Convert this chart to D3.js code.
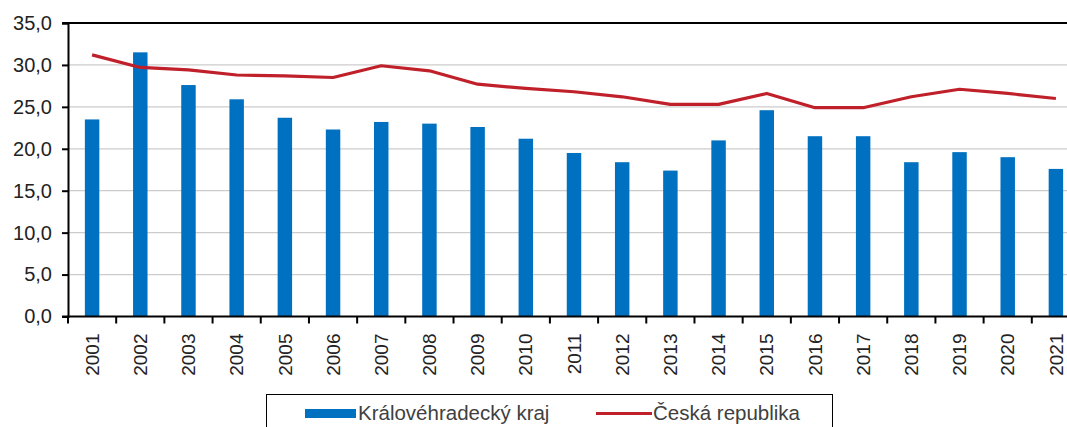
<!DOCTYPE html>
<html>
<head>
<meta charset="utf-8">
<script src="https://cdn.jsdelivr.net/npm/d3@7"></script>
<style>
  body { margin: 0; background: #fff; }
  svg { display: block; font-family: "Liberation Sans", Arial, sans-serif; }
</style>
</head>
<body>
<div id="chart"></div>
<script>
// data
const years = ["2001","2002","2003","2004","2005","2006","2007","2008","2009","2010",
  "2011","2012","2013","2014","2015","2016","2017","2018","2019","2020","2021"];
const kraj = [23.5, 31.5, 27.6, 25.9, 23.7, 22.3, 23.2, 23.0, 22.6, 21.2,
  19.5, 18.4, 17.4, 21.0, 24.6, 21.5, 21.5, 18.4, 19.6, 19.0, 17.6];
const cr = [31.2, 29.7, 29.4, 28.8, 28.7, 28.5, 29.9, 29.3, 27.7, 27.2,
  26.8, 26.2, 25.3, 25.3, 26.6, 24.9, 24.9, 26.2, 27.1, 26.6, 26.0];
const yTicks = [0, 5, 10, 15, 20, 25, 30, 35];
const seriesNames = ["Královéhradecký kraj", "Česká republika"];

const width = 1067, height = 427;
const margin = { top: 23, left: 68, bottom: 316.5, right: 1080 };

const svg = d3.select("#chart").append("svg")
  .attr("width", width)
  .attr("height", height);

const x = d3.scaleBand()
  .domain(years)
  .range([margin.left, margin.right])
  .padding(0);

const y = d3.scaleLinear()
  .domain([0, 35])
  .range([margin.bottom, margin.top]);

const fmt = v => d3.format(".1f")(v).replace(".", ",");

// gridlines
svg.append("g")
  .selectAll("line")
  .data(yTicks.filter(t => t > 0 && t < 35))
  .join("line")
    .attr("x1", margin.left)
    .attr("x2", width)
    .attr("y1", d => y(d))
    .attr("y2", d => y(d))
    .attr("stroke", "#cccccc")
    .attr("stroke-width", 1.3);

// top border line
svg.append("line")
  .attr("x1", margin.left - 6).attr("x2", width)
  .attr("y1", y(35)).attr("y2", y(35))
  .attr("stroke", "#000").attr("stroke-width", 2);

// bars
const barW = x.step() * 0.3;
svg.append("g")
  .selectAll("rect")
  .data(kraj)
  .join("rect")
    .attr("x", (d, i) => x(years[i]) + x.bandwidth() / 2 - barW / 2)
    .attr("y", d => y(d))
    .attr("width", barW)
    .attr("height", d => y(0) - y(d))
    .attr("fill", "#0070C0");

// line
const line = d3.line()
  .x((d, i) => x(years[i]) + x.bandwidth() / 2)
  .y(d => y(d));
svg.append("path")
  .datum(cr)
  .attr("d", line)
  .attr("fill", "none")
  .attr("stroke", "#C0202A")
  .attr("stroke-width", 3.2)
  .attr("stroke-linejoin", "round");

// Y axis
const yAxis = svg.append("g")
  .attr("transform", `translate(${margin.left},0)`)
  .call(d3.axisLeft(y).tickValues(yTicks).tickSize(6).tickPadding(10).tickFormat(fmt));
yAxis.select(".domain").attr("stroke-width", 2);
yAxis.selectAll(".tick line").attr("stroke-width", 2);
yAxis.selectAll("text")
  .attr("font-size", 20)
  .attr("fill", "#222")
  .attr("font-family", "Liberation Sans, Arial, sans-serif");

// X axis
const xAxis = svg.append("g")
  .attr("transform", `translate(0,${margin.bottom})`)
  .call(d3.axisBottom(x).tickSize(0).tickSizeOuter(0));
xAxis.select(".domain").attr("stroke-width", 2).attr("d", `M${margin.left - 6},0H${width}`);
xAxis.selectAll(".tick text")
  .attr("font-size", 19)
  .attr("fill", "#222")
  .attr("font-family", "Liberation Sans, Arial, sans-serif")
  .attr("text-anchor", "end")
  .attr("dy", "0.35em")
  .attr("transform", "translate(0,17) rotate(-90)")
  .attr("x", 0)
  .attr("y", 0);

// tick marks on band boundaries
svg.append("g")
  .selectAll("line")
  .data(years)
  .join("line")
    .attr("x1", d => x(d))
    .attr("x2", d => x(d))
    .attr("y1", margin.bottom)
    .attr("y2", margin.bottom + 7)
    .attr("stroke", "#000")
    .attr("stroke-width", 2);

// legend
const legend = svg.append("g");
legend.append("rect")
  .attr("x", 266.5).attr("y", 394.5)
  .attr("width", 566).attr("height", 40)
  .attr("fill", "none").attr("stroke", "#000").attr("stroke-width", 1);
legend.append("rect")
  .attr("x", 305).attr("y", 409)
  .attr("width", 51).attr("height", 9)
  .attr("fill", "#0070C0");
legend.append("text")
  .attr("x", 358).attr("y", 420)
  .attr("font-size", 20.5).attr("fill", "#404040")
  .text(seriesNames[0]);
legend.append("line")
  .attr("x1", 596).attr("x2", 652)
  .attr("y1", 413.5).attr("y2", 413.5)
  .attr("stroke", "#C0202A").attr("stroke-width", 3);
legend.append("text")
  .attr("x", 653).attr("y", 420)
  .attr("font-size", 20.5).attr("fill", "#404040")
  .text(seriesNames[1]);
</script>
</body>
</html>
